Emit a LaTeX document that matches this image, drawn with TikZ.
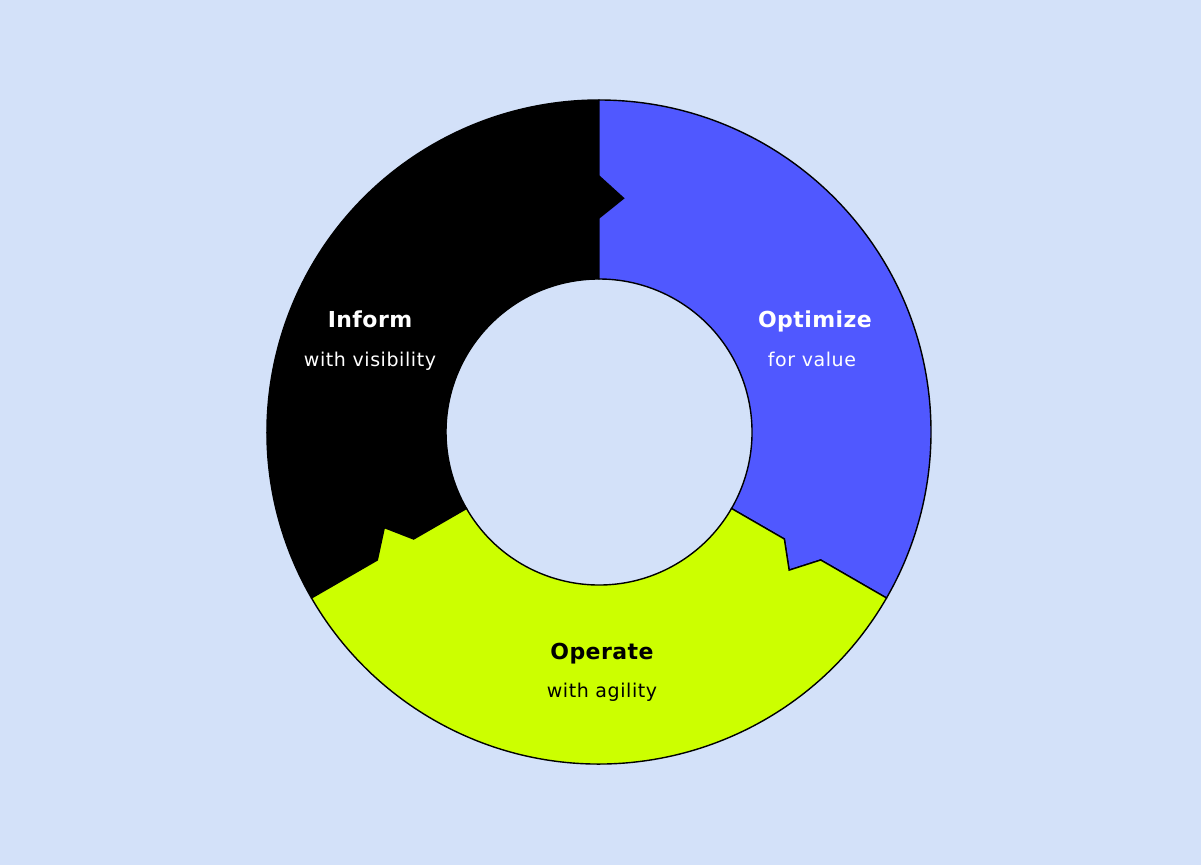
\documentclass[tikz,border=0pt]{standalone}
\usepackage{fontspec}
\setmainfont{DejaVu Sans}
\newfontfamily\headfont[LetterSpace=2]{DejaVu Sans}
\newfontfamily\subfont[LetterSpace=3]{DejaVu Sans}
\definecolor{bgc}{HTML}{D3E1F9}
\definecolor{segblue}{HTML}{5058FF}
\definecolor{segyellow}{HTML}{CCFF00}
\tikzset{
  seg/.style={line width=1.4pt, draw=black, line join=miter},
  head/.style={anchor=base, font=\headfont\bfseries\fontsize{22}{26}\selectfont},
  sub/.style={anchor=base, font=\subfont\fontsize{19}{23}\selectfont},
}
\begin{document}
\begin{tikzpicture}[x=1pt,y=1pt]
\fill[bgc] (0,0) rectangle (1201,865);
\useasboundingbox (0,0) rectangle (1201,865);
\begin{scope}[shift={(599,433)}]
\foreach \a/\c in {210/black, 90/segblue, -30/segyellow}{
  \filldraw[seg, fill=\c]
    (\a:153pt) -- (\a:214pt) -- ({\a-6}:235pt) -- (\a:256pt) -- (\a:332pt)
    arc[start angle=\a, end angle={\a-120}, radius=332pt]
    -- ({\a-120}:256pt) -- ({\a-126}:235pt) -- ({\a-120}:214pt) -- ({\a-120}:153pt)
    arc[start angle={\a-120}, end angle=\a, radius=153pt] -- cycle;
}
\end{scope}
\node[head, text=white] (inform) at (370,537) {Inform};
\node[sub, text=white] (informsub) at (370,498) {with visibility};
\node[head, text=white] (optimize) at (815,537) {Optimize};
\node[sub, text=white] (optimizesub) at (812,498) {for value};
\node[head, text=black] (operate) at (602,206) {Operate};
\node[sub, text=black] (operatesub) at (602,168) {with agility};
\end{tikzpicture}
\end{document}
